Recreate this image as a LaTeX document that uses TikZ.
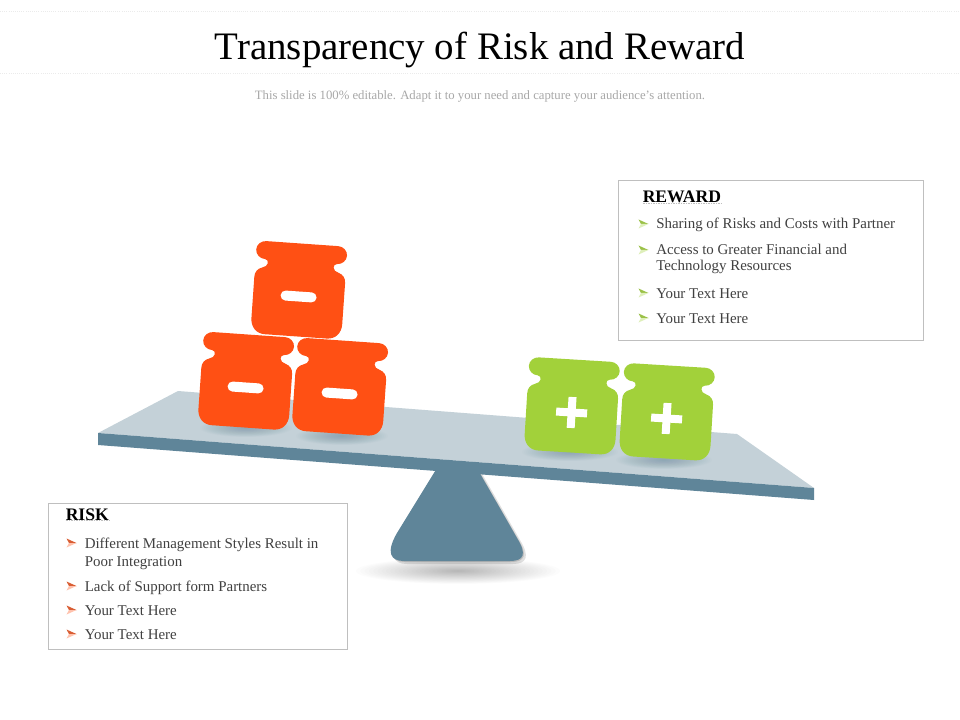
\documentclass[tikz,border=0pt]{standalone}
\usepackage{fontspec}
\setmainfont{Liberation Serif}
\definecolor{orangejar}{HTML}{FF5014}
\definecolor{greenjar}{HTML}{A2D13A}
\definecolor{platetop}{HTML}{C4D1D8}
\definecolor{platefront}{HTML}{5F8599}
\definecolor{boxline}{HTML}{BFBFBF}
\definecolor{bodytext}{HTML}{404040}
\definecolor{subtext}{HTML}{A8A8A8}
\tikzset{
  px/.style={x=0.75pt,y=-0.75pt},
  titletext/.style={anchor=base,inner sep=0,font=\fontsize{29.2}{32}\selectfont,text=black},
  subtitletext/.style={anchor=base,inner sep=0,font=\fontsize{9.55}{11}\selectfont,text=subtext},
  headtext/.style={anchor=base west,inner sep=0,font=\fontsize{13.2}{15}\selectfont\bfseries,text=black},
  itemtext/.style={anchor=base west,inner sep=0,font=\fontsize{11.2}{13}\selectfont,text=bodytext},
  infobox/.style={draw=boxline,line width=0.7pt,fill=white},
  headrule/.style={draw=gray!50,line width=0.25pt,densely dotted},
  toprule/.style={draw=black!8,line width=0.6pt,densely dotted},
}
\newcommand{\softshadow}[6]{%
  \foreach \i in {1,...,24}{%
    \fill[#5,opacity=#6] (#1,#2) ellipse [x radius={#3*\i/24},y radius={#4*\i/24}];
  }}
\newcommand{\jarpath}{%
  (-36,-46.5) -- (36,-46.5)
  .. controls (41.2,-46.5) and (45.5,-42.5) .. (45.5,-37.5)
  .. controls (45.5,-32.5) and (41.2,-28.5) .. (36,-28.5)
  .. controls (33.5,-28.5) and (33,-26.5) .. (33,-24.5)
  .. controls (33.5,-22) and (35,-21) .. (38,-20)
  .. controls (43,-18.5) and (45.5,-15) .. (45.5,-10)
  -- (45.5,31)
  .. controls (45.5,40) and (40,46.5) .. (31,46.5)
  -- (-31,46.5)
  .. controls (-40,46.5) and (-45.5,40) .. (-45.5,31)
  -- (-45.5,-10)
  .. controls (-45.5,-15) and (-43,-18.5) .. (-38,-20)
  .. controls (-35,-21) and (-33.5,-22) .. (-33,-24.5)
  .. controls (-33,-26.5) and (-33.5,-28.5) .. (-36,-28.5)
  .. controls (-41.2,-28.5) and (-45.5,-32.5) .. (-45.5,-37.5)
  .. controls (-45.5,-42.5) and (-41.2,-46.5) .. (-36,-46.5) -- cycle}
\newcommand{\minusjar}[2]{%
  \begin{scope}[shift={(#1,#2)},rotate=-4]
    \fill[orangejar] \jarpath;
    \draw[white,line width=7.5pt,line cap=round] (-13,6.5) -- (13,6.5);
  \end{scope}}
\newcommand{\plusjar}[2]{%
  \begin{scope}[shift={(#1,#2)},rotate=-3.5]
    \fill[greenjar] \jarpath;
    \fill[white] (-15.5,2.5) rectangle (15.5,10.5);
    \fill[white] (-4,-9) rectangle (4,22);
  \end{scope}}
\newcommand{\bulletmark}[4]{%
  \begin{scope}[shift={(#1,#2)}]
    \fill[#3] (0,-4.5) -- (10,0) -- (2.5,0) -- cycle;
    \fill[#4] (0,4.5) -- (10,0) -- (2.5,0) -- cycle;
  \end{scope}}
\begin{document}
\begin{tikzpicture}[px]
\useasboundingbox (0,0) rectangle (960,720);
\fill[white] (0,0) rectangle (960,720);

% header
\coordinate (ruleAl) at (0,11); \coordinate (ruleAr) at (960,11);
\coordinate (ruleBl) at (0,73); \coordinate (ruleBr) at (960,73);
\draw[toprule] (ruleAl) -- (ruleAr);
\draw[toprule] (ruleBl) -- (ruleBr);
\node[titletext] (title) at (480,60) {Transparency of Risk and Reward};
\node[subtitletext] (subtitle) at (480,100) {This slide is 100\% editable. Adapt it to your need and capture your audience's attention.};

% ground shadow
\softshadow{458}{571}{102}{13}{black}{0.010}

% fulcrum
\fill[black,opacity=0.12] (440,470) -- (481,472) -- (520,540) .. controls (530,556) and (527,564) .. (513,564) -- (407,564) .. controls (393,564) and (389,555) .. (400,536) -- cycle;
\fill[black,opacity=0.15] (438,469) -- (479,471) -- (518,539) .. controls (528,555) and (525,562) .. (511,562) -- (405,562) .. controls (391,562) and (387,553) .. (398,534) -- cycle;
\fill[platefront] (437,468) -- (478,470) -- (517,538) .. controls (527,554) and (524,561) .. (510,561) -- (404,561) .. controls (390,561) and (386,552) .. (397,533) -- cycle;

% plank
\fill[platetop] (98,433) -- (178,391) -- (737,434) -- (814,488) -- cycle;
\fill[platefront] (98,433) -- (814,488) -- (814,500) -- (98,445) -- cycle;

% jar shadows
\softshadow{246}{428}{46}{9}{platefront}{0.025}
\softshadow{342}{436}{46}{9}{platefront}{0.025}
\softshadow{570}{452}{48}{9}{platefront}{0.025}
\softshadow{664}{460}{48}{9}{platefront}{0.025}

% jars
\minusjar{299}{290}
\minusjar{246}{381}
\minusjar{340}{387}
\plusjar{572}{406}
\plusjar{667}{412}

% reward box
\draw[infobox] (618,180) rectangle (923,340.5);
\node[headtext] (rewardhead) at (642.5,203) {REWARD};
\draw[headrule] (rewardhead.south west) -- (rewardhead.south east);
\node[itemtext] (r1) at (656,229) {Sharing of Risks and Costs with Partner};
\node[itemtext] (r2) at (656,255) {Access to Greater Financial and};
\node[itemtext] (r2b) at (656,271) {Technology Resources};
\node[itemtext] (r3) at (656,298) {Your Text Here};
\node[itemtext] (r4) at (656,323) {Your Text Here};
\bulletmark{638.5}{224}{greenjar!80!gray}{greenjar!35}
\bulletmark{638.5}{250}{greenjar!80!gray}{greenjar!35}
\bulletmark{638.5}{293}{greenjar!80!gray}{greenjar!35}
\bulletmark{638.5}{318}{greenjar!80!gray}{greenjar!35}

% risk box
\draw[infobox] (48.5,503) rectangle (347.5,649.5);
\node[headtext] (riskhead) at (65.5,520) {RISK};
\draw[headrule] (riskhead.south west) -- (riskhead.south east);
\node[itemtext] (k1) at (84.5,548) {Different Management Styles Result in};
\node[itemtext] (k1b) at (84.5,566) {Poor Integration};
\node[itemtext] (k2) at (84.5,591) {Lack of Support form Partners};
\node[itemtext] (k3) at (84.5,615) {Your Text Here};
\node[itemtext] (k4) at (84.5,639) {Your Text Here};
\bulletmark{66.5}{543}{orangejar!70!gray}{orangejar!35}
\bulletmark{66.5}{586}{orangejar!70!gray}{orangejar!35}
\bulletmark{66.5}{610}{orangejar!70!gray}{orangejar!35}
\bulletmark{66.5}{634}{orangejar!70!gray}{orangejar!35}
\end{tikzpicture}
\end{document}
